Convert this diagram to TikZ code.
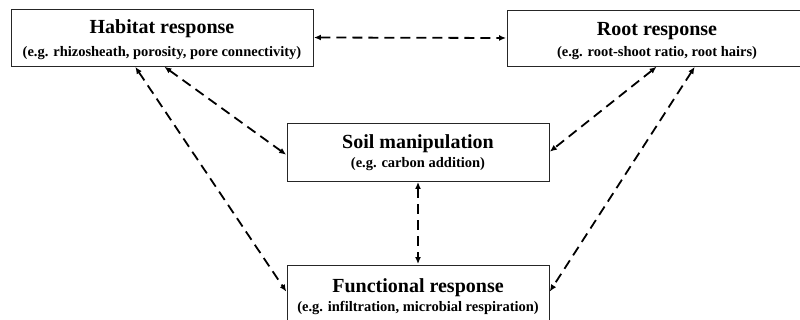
\documentclass[tikz,border=0pt]{standalone}
\usepackage{fontspec}
\setmainfont{Liberation Serif}
\usetikzlibrary{arrows.meta}
\tikzset{
  box/.style={draw=black!85, line width=0.9pt, inner sep=0pt},
  ttl/.style={font=\bfseries\fontsize{20}{22}\selectfont, anchor=base, inner sep=0pt},
  sub/.style={font=\bfseries\fontsize{14.5}{16}\selectfont, anchor=base, inner sep=0pt},
  link/.style={line width=1.8pt, dash pattern=on 10pt off 6pt,
    {Latex[length=7pt,width=6pt]}-{Latex[length=7pt,width=6pt]}, shorten <=0.5pt, shorten >=0.5pt}
}
\begin{document}
\begin{tikzpicture}[x=1pt,y=-1pt]
\useasboundingbox (0,0) rectangle (800,320);
\clip (0,0) rectangle (800,320);
\fill[white] (0,0) rectangle (800,320);
% boxes
\node[box, minimum width=302pt, minimum height=57pt] (hab) at (162,37.5) {};
\node[box, minimum width=300pt, minimum height=56pt] (root) at (657,38) {};
\node[box, minimum width=262pt, minimum height=58pt] (soil) at (418,152) {};
\node[box, minimum width=262pt, minimum height=60pt] (func) at (418,295) {};
% texts
\node[ttl] (habT) at (162,34) {Habitat response};
\node[sub] (habS) at (162,57) {(e.g. rhizosheath,  porosity, pore connectivity)};
\node[ttl] (rootT) at (657,36) {Root response};
\node[sub] (rootS) at (657,57) {(e.g. root-shoot ratio, root hairs)};
\node[ttl] (soilT) at (418,149) {Soil manipulation};
\node[sub] (soilS) at (418,168) {(e.g. carbon addition)};
\node[ttl] (funcT) at (418,292) {Functional response};
\node[sub] (funcS) at (418,311) {(e.g. infiltration, microbial respiration)};
% anchor points
\coordinate (h1) at ([xshift=2pt]hab.south);
\coordinate (h2) at ([xshift=-27pt]hab.south);
\coordinate (s1) at ([yshift=-3pt]soil.west);
\coordinate (f1) at ([yshift=3pt]func.west);
\coordinate (r2) at ([xshift=38pt]root.south);
\coordinate (f2) at ([yshift=3pt]func.east);
% connectors
\draw[link] (hab.east) -- (root.west);
\draw[link] (h1) -- (s1);
\draw[link] (h2) -- (f1);
\draw[link] (root.south) -- (soil.east);
\draw[link] (r2) -- (f2);
\draw[link] (soil.south) -- (func.north);
\end{tikzpicture}
\end{document}
